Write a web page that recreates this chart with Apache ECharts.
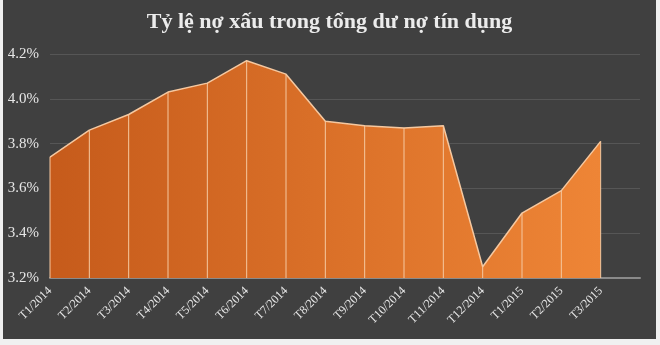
<!DOCTYPE html>
<html><head><meta charset="utf-8">
<script src="https://cdn.jsdelivr.net/npm/echarts@6/dist/echarts.min.js"></script>
<style>
html,body{margin:0;padding:0;background:#f0f0f0;width:660px;height:345px;overflow:hidden}
#c{position:absolute;left:3px;top:0;width:653px;height:339px}
</style></head>
<body><div id="c"></div>
<script>
const titleText = 'Tỷ lệ nợ xấu trong tổng dư nợ tín dụng';
const categories = ['T1/2014','T2/2014','T3/2014','T4/2014','T5/2014','T6/2014','T7/2014','T8/2014','T9/2014','T10/2014','T11/2014','T12/2014','T1/2015','T2/2015','T3/2015',''];
const nplRatio = [3.74, 3.86, 3.93, 4.03, 4.07, 4.17, 4.11, 3.90, 3.88, 3.87, 3.88, 3.25, 3.49, 3.59, 3.81];
const yMin = 3.2, yMax = 4.2, yStep = 0.2;

const chart = echarts.init(document.getElementById('c'));
chart.setOption({
  backgroundColor: '#404040',
  animation: false,
  title: {
    text: titleText, left: 'center', top: 6,
    textStyle: {color: '#ececec', fontFamily: 'Liberation Serif', fontWeight: 'bold', fontSize: 22}
  },
  grid: {left: 47, right: 16, top: 54, bottom: 61},
  xAxis: {
    type: 'category', data: categories, boundaryGap: false,
    axisLine: {lineStyle: {color: '#8a8a8a', width: 2}},
    axisTick: {show: false},
    splitLine: {show: false},
    axisLabel: {rotate: 45, interval: 0, color: '#e6e6e6', fontFamily: 'Liberation Serif', fontSize: 12, margin: 11}
  },
  yAxis: {
    type: 'value', min: yMin, max: yMax, interval: yStep,
    axisLine: {show: false}, axisTick: {show: false},
    splitLine: {lineStyle: {color: '#565656', width: 1}},
    axisLabel: {color: '#e6e6e6', fontFamily: 'Liberation Serif', fontSize: 15, margin: 11,
      formatter: v => v.toFixed(1) + '%'}
  },
  series: [
    {
      type: 'line', data: nplRatio, symbol: 'none', z: 2,
      lineStyle: {color: '#f5c8a0', width: 1.5},
      areaStyle: {opacity: 1, color: new echarts.graphic.LinearGradient(0, 0, 1, 0, [
        {offset: 0, color: '#c65b1b'}, {offset: 1, color: '#ee8536'}
      ])}
    },
    {
      type: 'bar', data: nplRatio, barWidth: 1, z: 3,
      itemStyle: {color: '#f5c8a0'}
    }
  ]
});
</script></body></html>
